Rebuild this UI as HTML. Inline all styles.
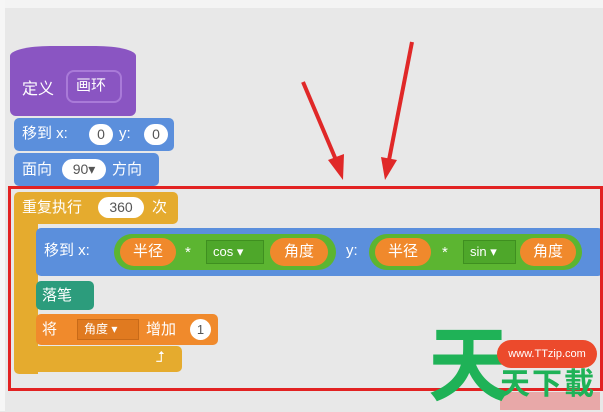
<!DOCTYPE html>
<html><head><meta charset="utf-8"><style>
body{margin:0;width:603px;height:411px;background:#e8e8e8;position:relative;overflow:hidden;font-family:"Liberation Sans","Noto Sans CJK SC",sans-serif;}
.a{position:absolute;box-sizing:border-box;}
.t{color:#fff;font-size:15px;white-space:nowrap;line-height:20px;}
.blue{background:#5b8fdc;border-radius:5px;}
.pill{background:#fff;border-radius:12px;color:#555;text-align:center;font-size:14px;line-height:21px;}
.or{background:#f0892c;border-radius:16px;color:#fff;text-align:center;font-size:15px;}
.gr{background:#5cb531;border-radius:20px;}
</style></head><body>
<div class="a" style="left:0;top:0;width:603px;height:8px;background:#f4f4f4"></div>
<div class="a" style="left:0;top:0;width:5px;height:411px;background:#f6f6f6"></div>
<!-- hat -->
<div class="a" style="left:10px;top:46px;width:126px;height:70px;background:#8a55c2;border-radius:40px 40px 6px 6px / 10px 10px 6px 6px"></div>
<div class="a t" style="left:22px;top:80px;font-size:16px">定义</div>
<div class="a" style="left:66px;top:70px;width:56px;height:33px;border:2px solid #a97ad8;border-radius:8px;background:#8a55c2"></div>
<div class="a t" style="left:76px;top:76px;font-size:15px">画环</div>
<!-- move -->
<div class="a blue" style="left:14px;top:118px;width:160px;height:33px"></div>
<div class="a t" style="left:22px;top:124px">移到 x:</div>
<div class="a pill" style="left:89px;top:124px;width:24px;height:21px">0</div>
<div class="a t" style="left:119px;top:124px">y:</div>
<div class="a pill" style="left:144px;top:124px;width:24px;height:21px">0</div>
<div class="a blue" style="left:14px;top:153px;width:145px;height:33px"></div>
<div class="a t" style="left:22px;top:160px">面向</div>
<div class="a pill" style="left:62px;top:159px;width:44px;height:21px">90▾</div>
<div class="a t" style="left:112px;top:160px">方向</div>
<!-- repeat -->
<div class="a" style="left:14px;top:210px;width:24px;height:164px;background:#e5ab2e;border-radius:0 0 0 5px"></div>
<div class="a" style="left:14px;top:192px;width:164px;height:32px;background:#e5ab2e;border-radius:5px"></div>
<div class="a t" style="left:22px;top:198px">重复执行</div>
<div class="a pill" style="left:98px;top:197px;width:46px;height:21px">360</div>
<div class="a t" style="left:152px;top:198px">次</div>
<div class="a" style="left:14px;top:346px;width:168px;height:26px;background:#e5ab2e;border-radius:5px"></div>
<div class="a t" style="left:156px;top:348px">⮥</div>
<!-- big move -->
<div class="a blue" style="left:36px;top:228px;width:567px;height:48px"></div>
<div class="a t" style="left:44px;top:241px">移到 x:</div>
<div class="a gr" style="left:114px;top:234px;width:222px;height:36px"></div>
<div class="a or" style="left:120px;top:238px;width:56px;height:28px;line-height:28px">半径</div>
<div class="a t" style="left:185px;top:243px">*</div>
<div class="a" style="left:206px;top:240px;width:58px;height:24px;background:#4ea72a;border:1px solid #3f8f20;color:#fff;font-size:13px;line-height:22px;padding-left:6px">cos ▾</div>
<div class="a or" style="left:270px;top:238px;width:58px;height:28px;line-height:28px">角度</div>
<div class="a t" style="left:346px;top:241px">y:</div>
<div class="a gr" style="left:369px;top:234px;width:213px;height:36px"></div>
<div class="a or" style="left:375px;top:238px;width:56px;height:28px;line-height:28px">半径</div>
<div class="a t" style="left:442px;top:243px">*</div>
<div class="a" style="left:463px;top:240px;width:53px;height:24px;background:#4ea72a;border:1px solid #3f8f20;color:#fff;font-size:13px;line-height:22px;padding-left:6px">sin ▾</div>
<div class="a or" style="left:520px;top:238px;width:56px;height:28px;line-height:28px">角度</div>
<!-- pen -->
<div class="a" style="left:36px;top:281px;width:58px;height:29px;background:#2c9c7c;border-radius:5px"></div>
<div class="a t" style="left:42px;top:286px">落笔</div>
<div class="a" style="left:36px;top:314px;width:182px;height:31px;background:#f08a2c;border-radius:5px"></div>
<div class="a t" style="left:42px;top:320px">将</div>
<div class="a" style="left:77px;top:319px;width:62px;height:21px;background:#e07a20;border:1px solid #c86a18;color:#fff;font-size:12px;line-height:19px;padding-left:6px">角度 ▾</div>
<div class="a t" style="left:146px;top:320px">增加</div>
<div class="a pill" style="left:190px;top:319px;width:21px;height:21px;font-size:13px">1</div>
<!-- red box -->
<div class="a" style="left:8px;top:186px;width:595px;height:205px;border:3px solid #e22222"></div>
<svg class="a" style="left:0;top:0" width="603" height="411">
<g stroke="#e02828" stroke-width="4" fill="#e02828">
<line x1="303" y1="82" x2="336" y2="160"/><line x1="412" y1="42" x2="389" y2="160"/></g>
<polygon points="343,180 328,160 344,154" fill="#e02828"/>
<polygon points="385,180 381,157 397,160" fill="#e02828"/>
</svg>
<!-- watermark -->
<div class="a" style="left:500px;top:392px;width:100px;height:18px;background:#e8a8a8"></div>
<div class="a" style="left:428px;top:326px;font-size:82px;font-weight:bold;color:#1fb257;line-height:1">天</div>
<div class="a" style="left:497px;top:340px;width:100px;height:28px;background:#ec4a2c;border-radius:14px;color:#fff;font-size:11px;line-height:28px;text-align:center">www.TTzip.com</div>
<div class="a" style="left:500px;top:370px;font-size:30px;font-weight:bold;color:#1fb257;line-height:1;letter-spacing:2px">天下載</div>
</body></html>
